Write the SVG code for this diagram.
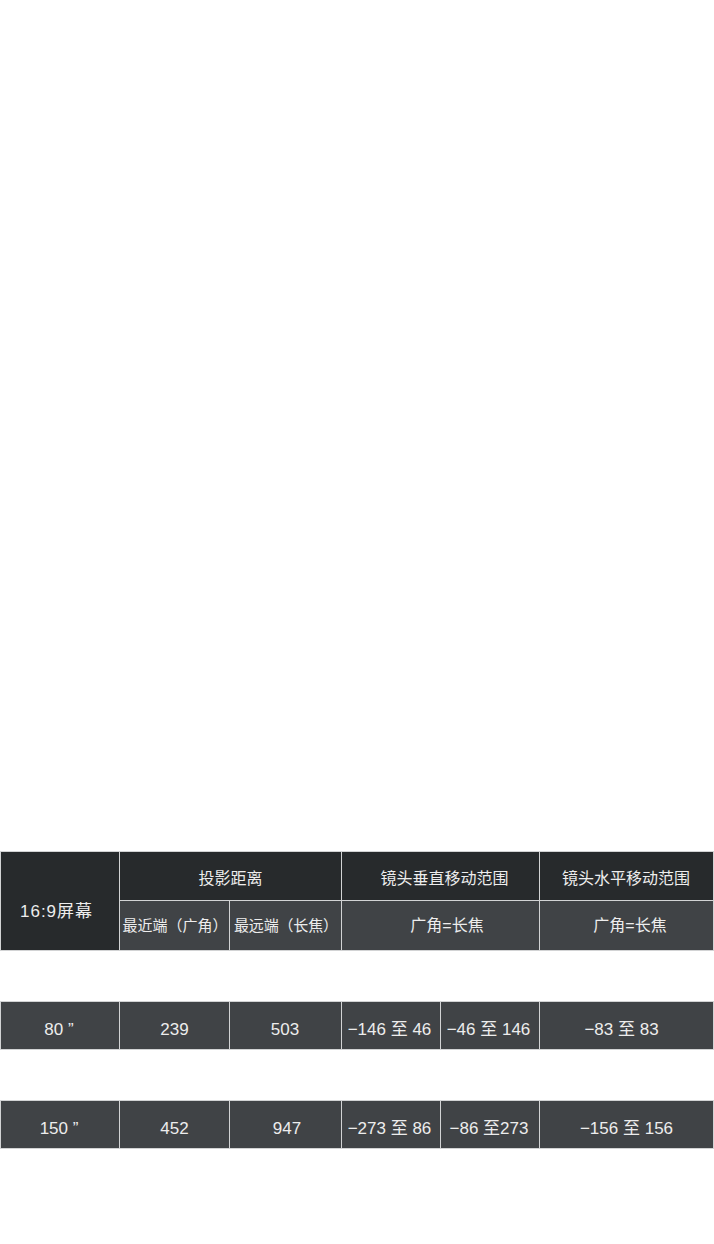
<svg xmlns="http://www.w3.org/2000/svg" width="714" height="1244" viewBox="0 0 714 1244">
<style>
.dk{fill:#272a2c;stroke:#d2d3d4;stroke-width:1}
.gr{fill:#404346;stroke:#d2d3d4;stroke-width:1}
text{font-family:"Liberation Sans","Noto Sans CJK SC",sans-serif;fill:#ededed;text-anchor:middle}
.h{font-size:16px}
.s{font-size:15px;text-anchor:start}
.d{font-size:17px}
</style>
<rect width="714" height="1244" fill="#ffffff"/>
<g id="header">
<rect class="dk" x="0.5" y="851.5" width="119" height="99"/>
<text class="d" x="56" y="917" textLength="72" lengthAdjust="spacing">16:9屏幕</text>
<rect class="dk" x="119.5" y="851.5" width="222" height="49"/>
<text class="h" x="230.5" y="884">投影距离</text>
<rect class="dk" x="341.5" y="851.5" width="198" height="49"/>
<text class="h" x="444.5" y="884">镜头垂直移动范围</text>
<rect class="dk" x="539.5" y="851.5" width="174" height="49"/>
<text class="h" x="626" y="884">镜头水平移动范围</text>
<rect class="gr" x="119.5" y="900.5" width="110" height="50"/>
<text class="s" x="122.5" y="930.5" textLength="105" lengthAdjust="spacing">最近端（广角）</text>
<rect class="gr" x="229.5" y="900.5" width="112" height="50"/>
<text class="s" x="234" y="930.5" textLength="104" lengthAdjust="spacing">最远端（长焦）</text>
<rect class="gr" x="341.5" y="900.5" width="198" height="50"/>
<text class="h" x="447" y="931">广角=长焦</text>
<rect class="gr" x="539.5" y="900.5" width="174" height="50"/>
<text class="h" x="630" y="931">广角=长焦</text>
</g>
<g id="row80">
<rect class="gr" x="0.5" y="1001.5" width="119" height="48"/>
<text class="d" x="59" y="1035">80 ”</text>
<rect class="gr" x="119.5" y="1001.5" width="110" height="48"/>
<text class="d" x="174.5" y="1035">239</text>
<rect class="gr" x="229.5" y="1001.5" width="112" height="48"/>
<text class="d" x="285" y="1035">503</text>
<rect class="gr" x="341.5" y="1001.5" width="99" height="48"/>
<text class="d" x="389.5" y="1035">−146 至 46</text>
<rect class="gr" x="440.5" y="1001.5" width="99" height="48"/>
<text class="d" x="488.5" y="1035">−46 至 146</text>
<rect class="gr" x="539.5" y="1001.5" width="174" height="48"/>
<text class="d" x="621.5" y="1035">−83 至 83</text>
</g>
<g id="row150">
<rect class="gr" x="0.5" y="1100.5" width="119" height="48"/>
<text class="d" x="59" y="1133.5">150 ”</text>
<rect class="gr" x="119.5" y="1100.5" width="110" height="48"/>
<text class="d" x="174.5" y="1133.5">452</text>
<rect class="gr" x="229.5" y="1100.5" width="112" height="48"/>
<text class="d" x="287" y="1133.5">947</text>
<rect class="gr" x="341.5" y="1100.5" width="99" height="48"/>
<text class="d" x="389.5" y="1133.5">−273 至 86</text>
<rect class="gr" x="440.5" y="1100.5" width="99" height="48"/>
<text class="d" x="489" y="1133.5">−86 至273</text>
<rect class="gr" x="539.5" y="1100.5" width="174" height="48"/>
<text class="d" x="626.5" y="1133.5">−156 至 156</text>
</g>
<g id="connectors"/>
</svg>
